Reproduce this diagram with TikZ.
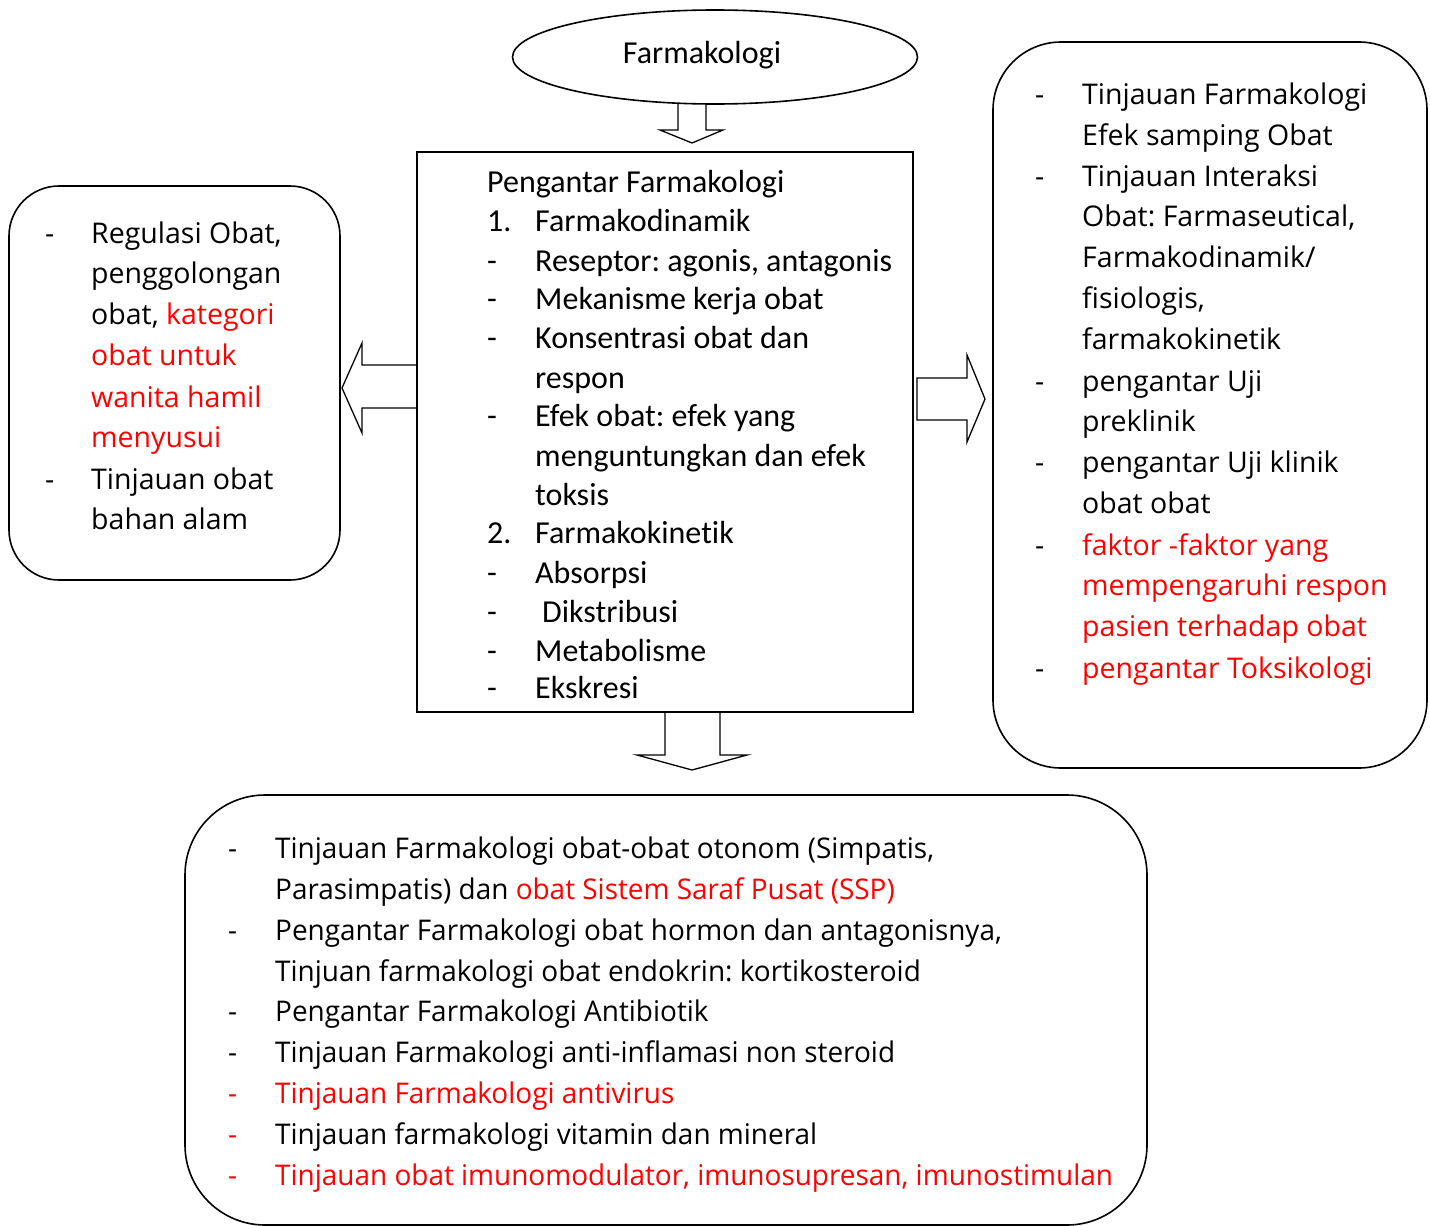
\documentclass[tikz,border=0pt]{standalone}
\usepackage{fontspec}
\setmainfont{Open Sans}
\newfontfamily\calfont[Ligatures=NoCommon]{Carlito}
\newfontfamily\narrowfont[FakeStretch=0.98]{Open Sans}
\usetikzlibrary{shapes.geometric}
\definecolor{myred}{RGB}{255,0,0}
\frenchspacing
\begin{document}
\begin{tikzpicture}[x=1pt,y=-1pt,
  shapeline/.style={draw=black, line width=1.6pt},
  boxnode/.style={shapeline, inner sep=0pt},
  arrowline/.style={draw=black, line width=1.3pt, line join=miter},
  cal/.style={font=\calfont\fontsize{32}{38}\selectfont, anchor=base west, inner sep=0pt},
  cs/.style={font=\fontsize{28.5}{34}\selectfont, anchor=base west, inner sep=0pt},
  csn/.style={font=\narrowfont\fontsize{28.5}{34}\selectfont, anchor=base west, inner sep=0pt}]
\useasboundingbox (0,0) rectangle (1430,1226);

% boxes
\node[boxnode, ellipse, minimum width=405, minimum height=94] (farm) at (715,57) {};
\node[font=\calfont\fontsize{32}{38}\selectfont, inner sep=0pt] (farmtxt) at (702,55) {Farmakologi};
\node[boxnode, rectangle, minimum width=496, minimum height=560] (ctr) at (665,432) {};
\node[boxnode, rectangle, rounded corners=50pt, minimum width=331, minimum height=394] (lft) at (174.5,383) {};
\node[boxnode, rectangle, rounded corners=68pt, minimum width=434, minimum height=726] (rgt) at (1210,405) {};
\node[boxnode, rectangle, rounded corners=80pt, minimum width=962, minimum height=430] (bot) at (666,1010) {};

% block arrows
\draw[arrowline] (678,103) -- (678,130) -- (660,130) -- (692,143) -- (723,130) -- (706,130) -- (706,103);
\draw[arrowline] (417,365) -- (362,365) -- (362,343) -- (342,388) -- (362,433) -- (362,408) -- (417,408);
\draw[arrowline] (917,378) -- (967,378) -- (967,355) -- (985,399) -- (967,442) -- (967,420) -- (917,420) -- cycle;
\draw[arrowline] (665,712) -- (665,755) -- (637,755) -- (692,770) -- (747,755) -- (720,755) -- (720,712);

% centre box text
\node[cal] (c0) at (487,192) {Pengantar Farmakologi};
\foreach \yy/\xx/\dd/\tt [count=\i] in {
  231/535/{1.}/{Farmakodinamik},
  271/535/{-}/{Reseptor: agonis, antagonis},
  309/535/{-}/{Mekanisme kerja obat},
  348/535/{-}/{Konsentrasi obat dan},
  388/535/{}/{respon},
  426/535/{-}/{Efek obat: efek yang},
  466/535/{}/{menguntungkan dan efek},
  505/535/{}/{toksis},
  543/535/{2.}/{Farmakokinetik},
  583/535/{-}/{Absorpsi},
  622/542/{-}/{Dikstribusi},
  661/535/{-}/{Metabolisme},
  698/535/{-}/{Ekskresi}}{
  \node[cal] (cd\i) at (487,\yy) {\dd};
  \node[cal] (ct\i) at (\xx,\yy) {\tt};
}

% left box text
\foreach \yy/\dd/\tt [count=\i] in {
  243/{-}/{Regulasi Obat,},
  283/{}/{penggolongan},
  324/{}/{obat, \textcolor{myred}{kategori}},
  365/{}/{\textcolor{myred}{obat untuk}},
  407/{}/{\textcolor{myred}{wanita hamil}},
  447/{}/{\textcolor{myred}{menyusui}},
  489/{-}/{Tinjauan obat},
  529/{}/{bahan alam}}{
  \node[cs] (ld\i) at (45,\yy) {\dd};
  \node[cs] (lt\i) at (91,\yy) {\tt};
}

% right box text
\foreach \yy/\dd/\tt [count=\i] in {
  104/{-}/{Tinjauan Farmakologi},
  145/{}/{Efek samping Obat},
  186/{-}/{Tinjauan Interaksi},
  226/{}/{Obat: Farmaseutical,},
  267/{}/{Farmakodinamik/},
  308/{}/{fisiologis,},
  349/{}/{farmakokinetik},
  391/{-}/{pengantar Uji},
  431/{}/{preklinik},
  472/{-}/{pengantar Uji klinik},
  513/{}/{obat obat},
  555/{-}/{\textcolor{myred}{faktor -faktor yang}},
  595/{}/{\textcolor{myred}{mempengaruhi respon}},
  636/{}/{\textcolor{myred}{pasien terhadap obat}},
  678/{-}/{\textcolor{myred}{pengantar Toksikologi}}}{
  \node[cs] (rd\i) at (1035,\yy) {\dd};
  \node[cs] (rt\i) at (1082,\yy) {\tt};
}

% bottom box text
\foreach \yy/\dc/\dd/\tt [count=\i] in {
  858/black/{-}/{Tinjauan Farmakologi obat-obat otonom (Simpatis,},
  899/black/{}/{Parasimpatis) dan \textcolor{myred}{obat Sistem Saraf Pusat (SSP)}},
  940/black/{-}/{Pengantar Farmakologi obat hormon dan antagonisnya,},
  981/black/{}/{Tinjuan farmakologi obat endokrin: kortikosteroid},
  1021/black/{-}/{Pengantar Farmakologi Antibiotik},
  1062/black/{-}/{Tinjauan Farmakologi anti-inflamasi non steroid},
  1103/myred/{-}/{\textcolor{myred}{Tinjauan Farmakologi antivirus}},
  1144/myred/{-}/{Tinjauan farmakologi vitamin dan mineral},
  1185/myred/{-}/{\textcolor{myred}{Tinjauan obat imunomodulator, imunosupresan, imunostimulan}}}{
  \node[csn, text=\dc] (bd\i) at (228,\yy) {\dd};
  \node[csn] (bt\i) at (275,\yy) {\tt};
}
\end{tikzpicture}
\end{document}
